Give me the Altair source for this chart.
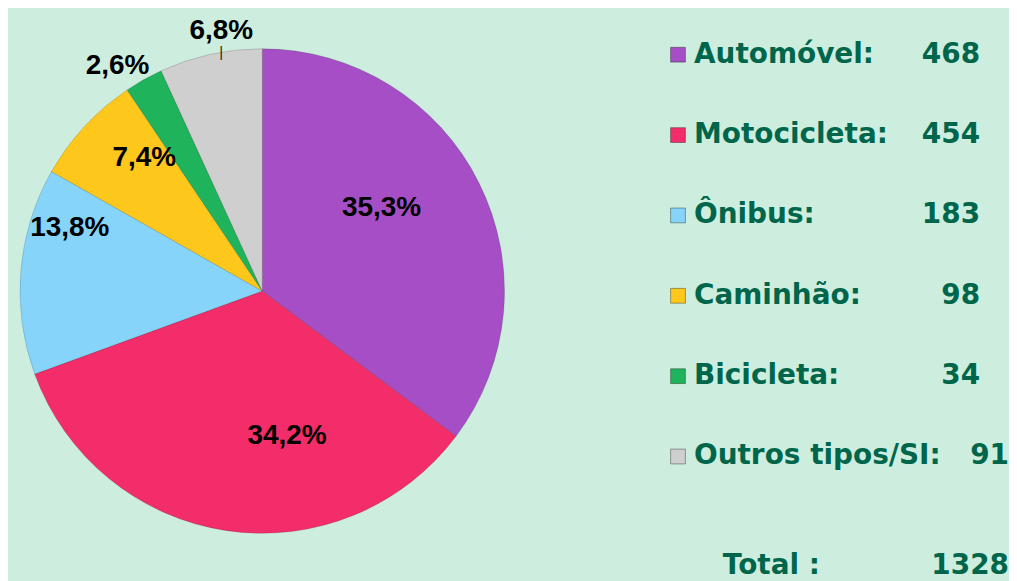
import altair as alt
import pandas as pd

# ---- data ----
categories = ["Automóvel", "Motocicleta", "Ônibus", "Caminhão", "Bicicleta", "Outros tipos/SI"]
legend_labels = ["Automóvel:", "Motocicleta:", "Ônibus:", "Caminhão:", "Bicicleta:", "Outros tipos/SI:"]
counts = [468, 454, 183, 98, 34, 91]
percent_labels = ["35,3%", "34,2%", "13,8%", "7,4%", "2,6%", "6,8%"]
slice_colors = ["#a54ec5", "#f22d6a", "#86d4fa", "#fec71c", "#1fb35b", "#cfcfcf"]

BG = "#cdeede"
TXT = "#00664b"
TOTAL = sum(counts)

df = pd.DataFrame({
    "idx": list(range(len(categories))),
    "cat": categories,
    "label": legend_labels,
    "value": counts,
    "pct": percent_labels,
})

color_scale = alt.Scale(domain=categories, range=slice_colors)
theta_scale = alt.Scale(domain=[0, TOTAL], range=[0, 6.283185307179586])

base = (
    alt.Chart(df)
    .transform_window(end="sum(value)", sort=[alt.SortField("idx")], frame=[None, 0])
    .transform_calculate(start="datum.end - datum.value", mid="(datum.start + datum.end) / 2")
)

pie = base.mark_arc(outerRadius=243, stroke="#000000", strokeWidth=0.8, strokeOpacity=0.18).encode(
    theta=alt.Theta("start:Q", scale=theta_scale, stack=None),
    theta2="end:Q",
    color=alt.Color("cat:N", scale=color_scale, legend=None),
)

# label placement (radius px, angular offset rad) per slice
label_style = {0: (146, -0.147), 1: (148, -0.316), 2: (203, 0.232),
               3: (178, 0.096), 4: (268, -0.061), 5: (264, 0.059)}

layers = [pie]
for i, (r, off) in label_style.items():
    layers.append(
        base.transform_filter(f"datum.idx == {i}").mark_text(
            radius=r, thetaOffset=off, font="Liberation Sans", fontWeight="bold",
            fontSize=28, color="#000000", align="center", baseline="middle",
        ).encode(theta=alt.Theta("mid:Q", scale=theta_scale, stack=None), text="pct:N")
    )

# leader line for the small grey slice label
layers.append(
    base.transform_filter("datum.idx == 5").mark_text(
        text="|", radius=243, thetaOffset=0.045, font="Liberation Sans",
        fontSize=15, color="#222222", align="center", baseline="middle",
    ).encode(theta=alt.Theta("mid:Q", scale=theta_scale, stack=None))
)

pie_chart = alt.layer(*layers).properties(width=510, height=566)

# ---- legend panel ----
lbase = alt.Chart(df)
yenc = alt.Y("cat:N", sort=categories,
             scale=alt.Scale(type="point", range=[46, 449], padding=0), axis=None)

FONT = dict(font="DejaVu Sans", fontWeight="bold", fontSize=28, color=TXT, baseline="middle")

markers = lbase.mark_square(size=220, opacity=1, stroke="#000000", strokeOpacity=0.35, strokeWidth=1).encode(
    x=alt.value(162), y=yenc,
    color=alt.Color("cat:N", scale=color_scale, legend=None),
)
names = lbase.mark_text(align="left", **FONT).encode(x=alt.value(178), y=yenc, text="label:N")
vals = lbase.transform_filter("datum.idx < 5").mark_text(align="right", **FONT).encode(
    x=alt.value(465), y=yenc, text="value:Q")
vals_last = lbase.transform_filter("datum.idx == 5").mark_text(align="right", **FONT).encode(
    x=alt.value(494), y=yenc, text="value:Q")

total_base = lbase.transform_aggregate(total="sum(value)")
total_lbl = total_base.mark_text(text="Total :", align="left", **FONT).encode(
    x=alt.value(207), y=alt.value(559))
total_val = total_base.mark_text(align="right", **FONT).encode(
    x=alt.value(494), y=alt.value(559), text="total:Q")

legend_chart = alt.layer(markers, names, vals, vals_last, total_lbl, total_val).properties(width=494, height=566)

chart = (
    alt.hconcat(pie_chart, legend_chart, spacing=0)
    .properties(padding=0, background=BG)
    .configure_view(stroke=None)
)

chart.save("out.html", embed_options={"renderer": "svg", "actions": False})
